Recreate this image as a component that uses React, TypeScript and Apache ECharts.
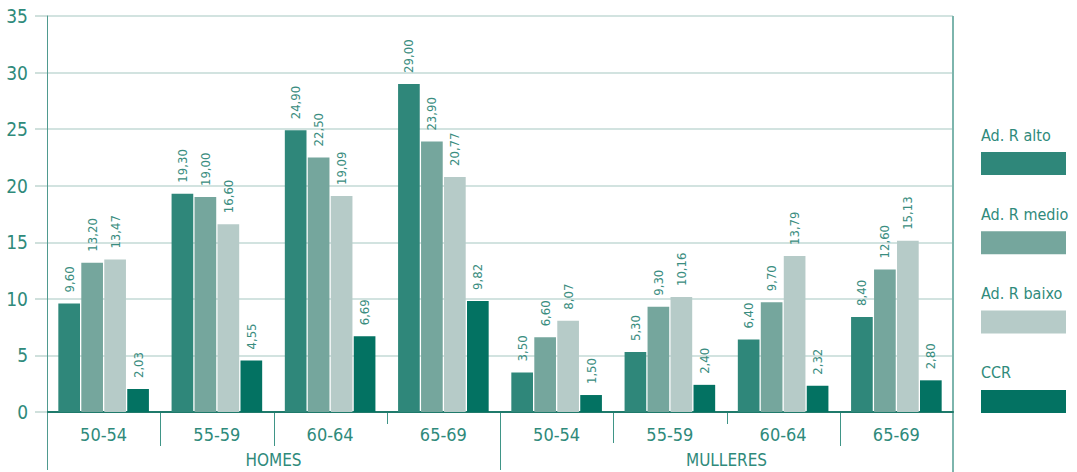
import React, { useEffect, useRef } from "react";
import * as echarts from "echarts";

// Age bands and sex groups along the horizontal axis
const ageGroups = ["50-54", "55-59", "60-64", "65-69"];
const sexGroups = ["HOMES", "MULLERES"];

// Series names and values (HOMES 50-54 … 65-69, then MULLERES 50-54 … 65-69)
const seriesNames = ["Ad. R alto", "Ad. R medio", "Ad. R baixo", "CCR"];
const adRAlto = [9.6, 19.3, 24.9, 29.0, 3.5, 5.3, 6.4, 8.4];
const adRMedio = [13.2, 19.0, 22.5, 23.9, 6.6, 9.3, 9.7, 12.6];
const adRBaixo = [13.47, 16.6, 19.09, 20.77, 8.07, 10.16, 13.79, 15.13];
const ccr = [2.03, 4.55, 6.69, 9.82, 1.5, 2.4, 2.32, 2.8];

const yTicks = [0, 5, 10, 15, 20, 25, 30, 35];

const colors = ["#2f877a", "#75a69d", "#b6cbc8", "#037262"];
const textColor = "#2f8a7b";
const fontFamily = "'Liberation Sans Narrow', 'DejaVu Sans Condensed', 'Roboto Condensed', sans-serif";

export default function App() {
  const ref = useRef<HTMLDivElement>(null);

  useEffect(() => {
    if (!ref.current) return;
    const chart = echarts.init(ref.current, undefined, { renderer: "svg" });

    const categories: string[] = [];
    sexGroups.forEach((s) => ageGroups.forEach((a) => categories.push(`${s}|${a}`)));
    const seriesData = [adRAlto, adRMedio, adRBaixo, ccr];

    const fmt = (v: number) => v.toFixed(2).replace(".", ",");

    chart.setOption({
      animation: false,
      textStyle: { fontFamily },
      grid: { left: 47, right: 124, top: 16, bottom: 60, containLabel: false },
      xAxis: [
        {
          type: "category",
          data: categories,
          axisLine: { lineStyle: { color: "#1f7a6b", width: 2 } },
          axisTick: { show: false },
          axisLabel: {
            color: textColor,
            fontSize: 18,
            fontFamily,
            margin: 13,
            formatter: (v: string) => v.split("|")[1],
          },
        },
        {
          type: "category",
          position: "bottom",
          data: sexGroups,
          offset: 35,
          axisLine: { show: false },
          axisTick: { show: false },
          axisLabel: { color: textColor, fontSize: 17, fontFamily, margin: 4 },
        },
      ],
      yAxis: {
        type: "value",
        min: yTicks[0],
        max: yTicks[yTicks.length - 1],
        interval: 5,
        axisLine: { show: true, lineStyle: { color: "#4f9a8f", width: 1 } },
        axisTick: { show: true, length: 12, lineStyle: { color: "#cfe0dc", width: 2 } },
        axisLabel: { color: textColor, fontSize: 19, fontFamily, margin: 19 },
        splitLine: { lineStyle: { color: "#d2e3e0", width: 2 } },
      },
      series: seriesNames.map((name, i) => ({
        name,
        type: "bar",
        xAxisIndex: 0,
        data: seriesData[i],
        barGap: "6%",
        barCategoryGap: "20%",
        itemStyle: { color: colors[i] },
        label: {
          show: true,
          position: "top",
          rotate: 90,
          align: "left",
          verticalAlign: "middle",
          distance: 11,
          color: "#3a8d80",
          fontSize: 13,
          fontFamily,
          formatter: (p: any) => fmt(p.value),
        },
      })),
    });

    // Group separators, axis extensions and the legend
    const px = (i: number) => chart.convertToPixel({ xAxisIndex: 0 }, i) as number;
    const yPx = (v: number) => chart.convertToPixel({ yAxisIndex: 0 }, v) as number;
    const y0 = yPx(0);
    const yTop = yPx(35);
    const half = (px(1) - px(0)) / 2;
    const sepBottoms = [470, 446, 446, 424, 470, 443, 424, 446];
    const elements: any[] = [];

    for (let k = 0; k < categories.length; k++) {
      const x = Math.round(px(k) - half) + 0.5;
      elements.push({
        type: "line",
        shape: { x1: x, y1: k === 0 ? yTop : y0, x2: x, y2: sepBottoms[k] },
        style: { stroke: k === 0 ? "#4f9a8f" : "#3f9587", lineWidth: 1 },
        silent: true,
      });
    }
    const xRight = Math.round(px(categories.length - 1) + half);
    elements.push({
      type: "line",
      shape: { x1: xRight, y1: yTop, x2: xRight, y2: 472 },
      style: { stroke: "#7db5ad", lineWidth: 2 },
      silent: true,
    });
    elements.push({
      type: "line",
      shape: { x1: 35, y1: y0, x2: 48, y2: y0 },
      style: { stroke: "#1f7a6b", lineWidth: 2 },
      silent: true,
    });

    seriesNames.forEach((name, i) => {
      const top = 127 + i * 79.3;
      elements.push({
        type: "text",
        x: 981,
        y: top,
        style: { text: name, fill: textColor, fontSize: 16, fontFamily, textVerticalAlign: "top" },
        silent: true,
      });
      elements.push({
        type: "rect",
        shape: { x: 981, y: top + 25, width: 85, height: 23 },
        style: { fill: colors[i] },
        silent: true,
      });
    });

    chart.setOption({ graphic: elements });

    return () => chart.dispose();
  }, []);

  return (
    <div
      ref={ref}
      style={{ position: "absolute", left: 0, top: 0, width: 1077, height: 472 }}
    />
  );
}
